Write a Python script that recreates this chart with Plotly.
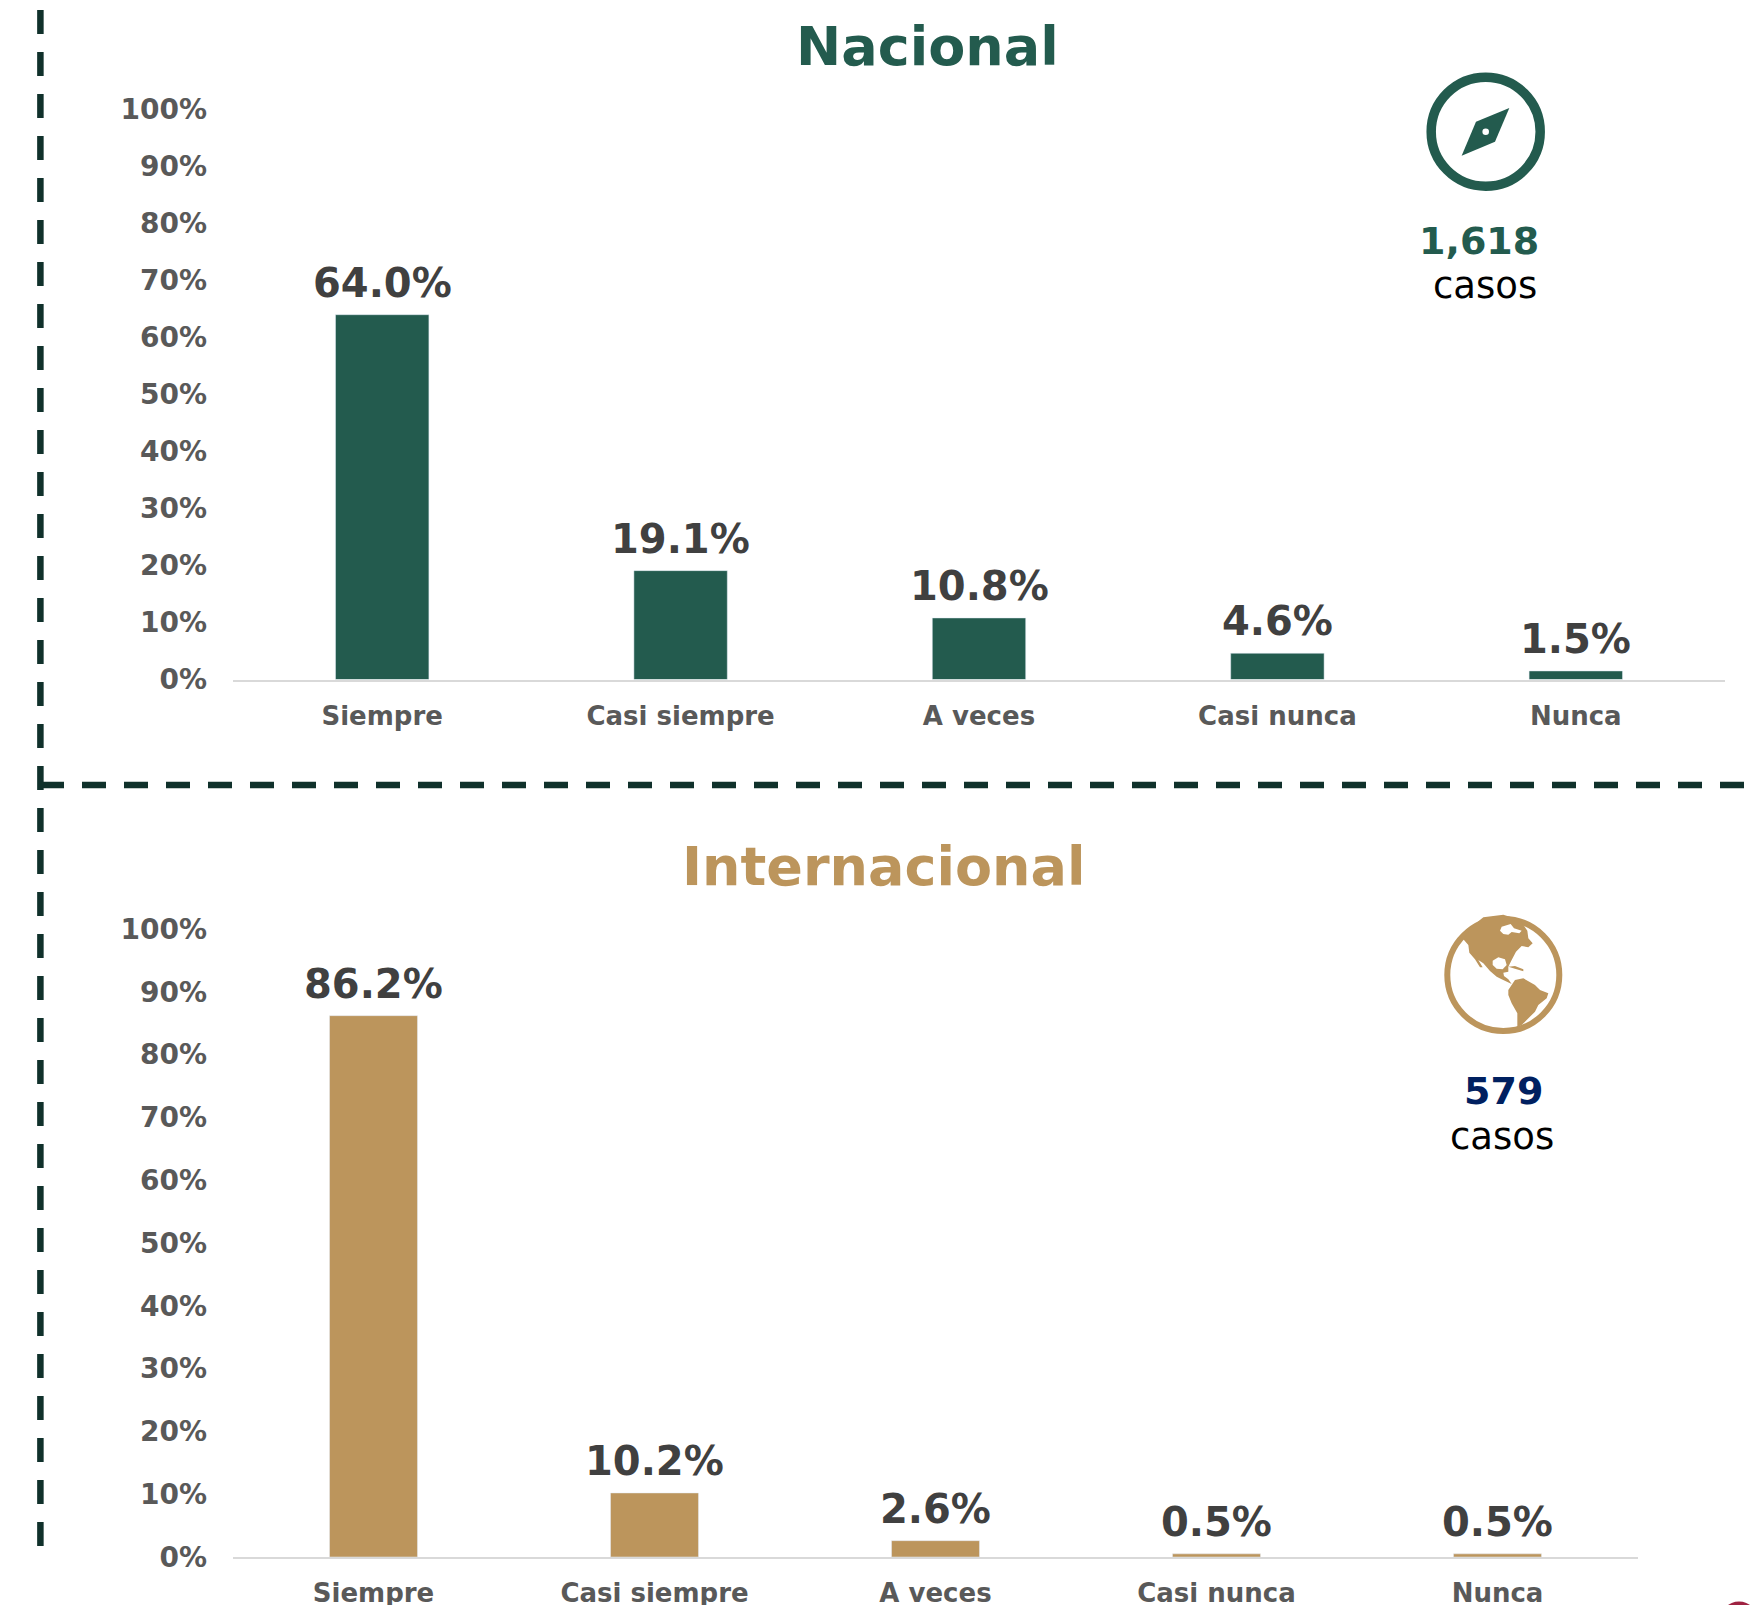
import plotly.graph_objects as go

W, H = 1759, 1605

categories = ["Siempre", "Casi siempre", "A veces", "Casi nunca", "Nunca"]
nacional = [64.0, 19.1, 10.8, 4.6, 1.5]
internacional = [86.2, 10.2, 2.6, 0.5, 0.5]
tick_values = [0, 10, 20, 30, 40, 50, 60, 70, 80, 90, 100]
tick_labels = ["0%", "10%", "20%", "30%", "40%", "50%", "60%", "70%", "80%", "90%", "100%"]

GREEN = "#235B4E"
GOLD = "#BC955C"
NAVY = "#002060"
DASH = "#10312B"
FONT = "DejaVu Sans"


def px(x):
    return x / W


def py(y):
    return 1 - y / H


def path(points):
    return "M " + " L ".join(f"{px(x):.5f},{py(y):.5f}" for x, y in points) + " Z"


def zoomed(points, ox, oy):
    return [(ox + a / 3, oy + b / 3) for a, b in points]


def circle(cx, cy, r, **kw):
    return dict(type="circle", xref="paper", yref="paper", x0=px(cx - r), x1=px(cx + r),
                y0=py(cy + r), y1=py(cy - r), **kw)


fig = go.Figure()
fig.add_trace(go.Bar(x=categories, y=nacional, marker_color=GREEN, width=0.313,
                     xaxis="x", yaxis="y", hoverinfo="x+y"))
fig.add_trace(go.Bar(x=categories, y=internacional, marker_color=GOLD, width=0.313,
                     xaxis="x2", yaxis="y2", hoverinfo="x+y"))

axis_x = dict(showgrid=False, zeroline=False, showline=True, linecolor="#D9D9D9", linewidth=2,
              ticks="", ticklabelstandoff=12, categoryorder="array", categoryarray=categories,
              automargin=False,
              tickfont=dict(family=FONT, size=26, color="#595959", weight="bold"))
axis_y = dict(range=[0, 100], tickmode="array", tickvals=tick_values, ticktext=tick_labels, showgrid=False,
              zeroline=False, showline=False, ticks="", ticklabelstandoff=25, automargin=False,
              tickfont=dict(family=FONT, size=28, color="#595959", weight="bold"))

fig.update_layout(
    width=W, height=H, margin=dict(l=0, r=0, t=0, b=0, pad=0, autoexpand=False), showlegend=False,
    paper_bgcolor="white", plot_bgcolor="white",
    xaxis=dict(domain=[px(233), px(1725)], anchor="y", **axis_x),
    yaxis=dict(domain=[py(679.5), py(109.5)], anchor="x", **axis_y),
    xaxis2=dict(domain=[px(233), px(1638)], anchor="y2", **axis_x),
    yaxis2=dict(domain=[py(1557), py(929)], anchor="x2", **axis_y),
)

# value labels
for xa, ya, vals in (("x", "y", nacional), ("x2", "y2", internacional)):
    for c, v in zip(categories, vals):
        fig.add_annotation(x=c, y=v, xref=xa, yref=ya, text=f"{v:.1f}%", showarrow=False,
                           yanchor="bottom", yshift=7,
                           font=dict(family=FONT, size=40, color="#404040", weight="bold"))


def label(text, x, y, size, color, bold=True):
    fig.add_annotation(xref="paper", yref="paper", x=px(x), y=py(y), text=text, showarrow=False,
                       xanchor="center", yanchor="middle",
                       font=dict(family=FONT, size=size, color=color,
                                 weight="bold" if bold else "normal"))


label("Nacional", 927, 47, 54, GREEN)
label("Internacional", 884, 866, 54, GOLD)
label("1,618", 1479, 241, 38, GREEN)
label("casos", 1485, 285, 37, "#000000", bold=False)
label("579", 1503, 1091, 38, NAVY)
label("casos", 1502, 1136, 37, "#000000", bold=False)

shapes = []
# dashed separators
shapes.append(dict(type="line", xref="paper", yref="paper", x0=px(40.4), x1=px(40.4), y0=py(10), y1=py(1547),
                   line=dict(color=DASH, width=6.5, dash="24px,18px")))
shapes.append(dict(type="line", xref="paper", yref="paper", x0=px(40), x1=px(1745), y0=py(785), y1=py(785),
                   line=dict(color=DASH, width=6.5, dash="24px,18px")))

# compass icon
shapes.append(circle(1485.7, 131.7, 54.5, line=dict(color=GREEN, width=9.5), fillcolor="white"))
needle = zoomed([(388, 174), (345, 275), (245, 317), (288, 215)], 1380, 50)
shapes.append(dict(type="path", xref="paper", yref="paper", path=path(needle), fillcolor=GREEN, line=dict(width=0)))
shapes.append(circle(1485.7, 131.7, 3.3, line=dict(width=0), fillcolor="white"))

# globe icon
shapes.append(circle(1503.3, 975, 56, line=dict(color=GOLD, width=6), fillcolor="white"))
north_america = [(70, 88), (85, 105), (88, 128), (105, 148), (120, 172), (128, 172), (115, 150), (130, 160),
                 (150, 183), (170, 200), (185, 208), (215, 222), (205, 208), (192, 198), (190, 188), (205, 185),
                 (205, 170), (215, 150), (228, 125), (245, 108), (265, 112), (278, 100), (265, 85), (262, 62),
                 (240, 30), (190, 14), (130, 22), (95, 50)]
south_america = [(205, 240), (225, 210), (250, 205), (285, 225), (300, 240), (325, 250), (320, 265), (295, 285),
                 (285, 305), (260, 330), (245, 345), (232, 352), (232, 310), (215, 280), (205, 255)]
cuba = [(205, 170), (225, 168), (250, 178), (250, 184), (225, 176)]
bay = [(158, 152), (175, 142), (195, 148), (200, 165), (188, 178), (170, 176), (158, 165)]
baffin = [(180, 62), (185, 50), (212, 42), (222, 55), (245, 62), (238, 70), (215, 66), (205, 74), (190, 72)]
for pts, col in ((north_america, GOLD), (south_america, GOLD), (cuba, GOLD), (bay, "white"), (baffin, "white")):
    shapes.append(dict(type="path", xref="paper", yref="paper", path=path(zoomed(pts, 1440, 910)),
                       fillcolor=col, line=dict(width=0)))

# partly visible seal at the page corner
shapes.append(circle(1739, 1620.5, 19, line=dict(width=0), fillcolor="#9F2241"))

fig.update_layout(shapes=shapes)

fig.write_html("out.html", config={"displayModeBar": False},
               post_script="document.body.style.margin='0';document.body.style.overflow='hidden';")
